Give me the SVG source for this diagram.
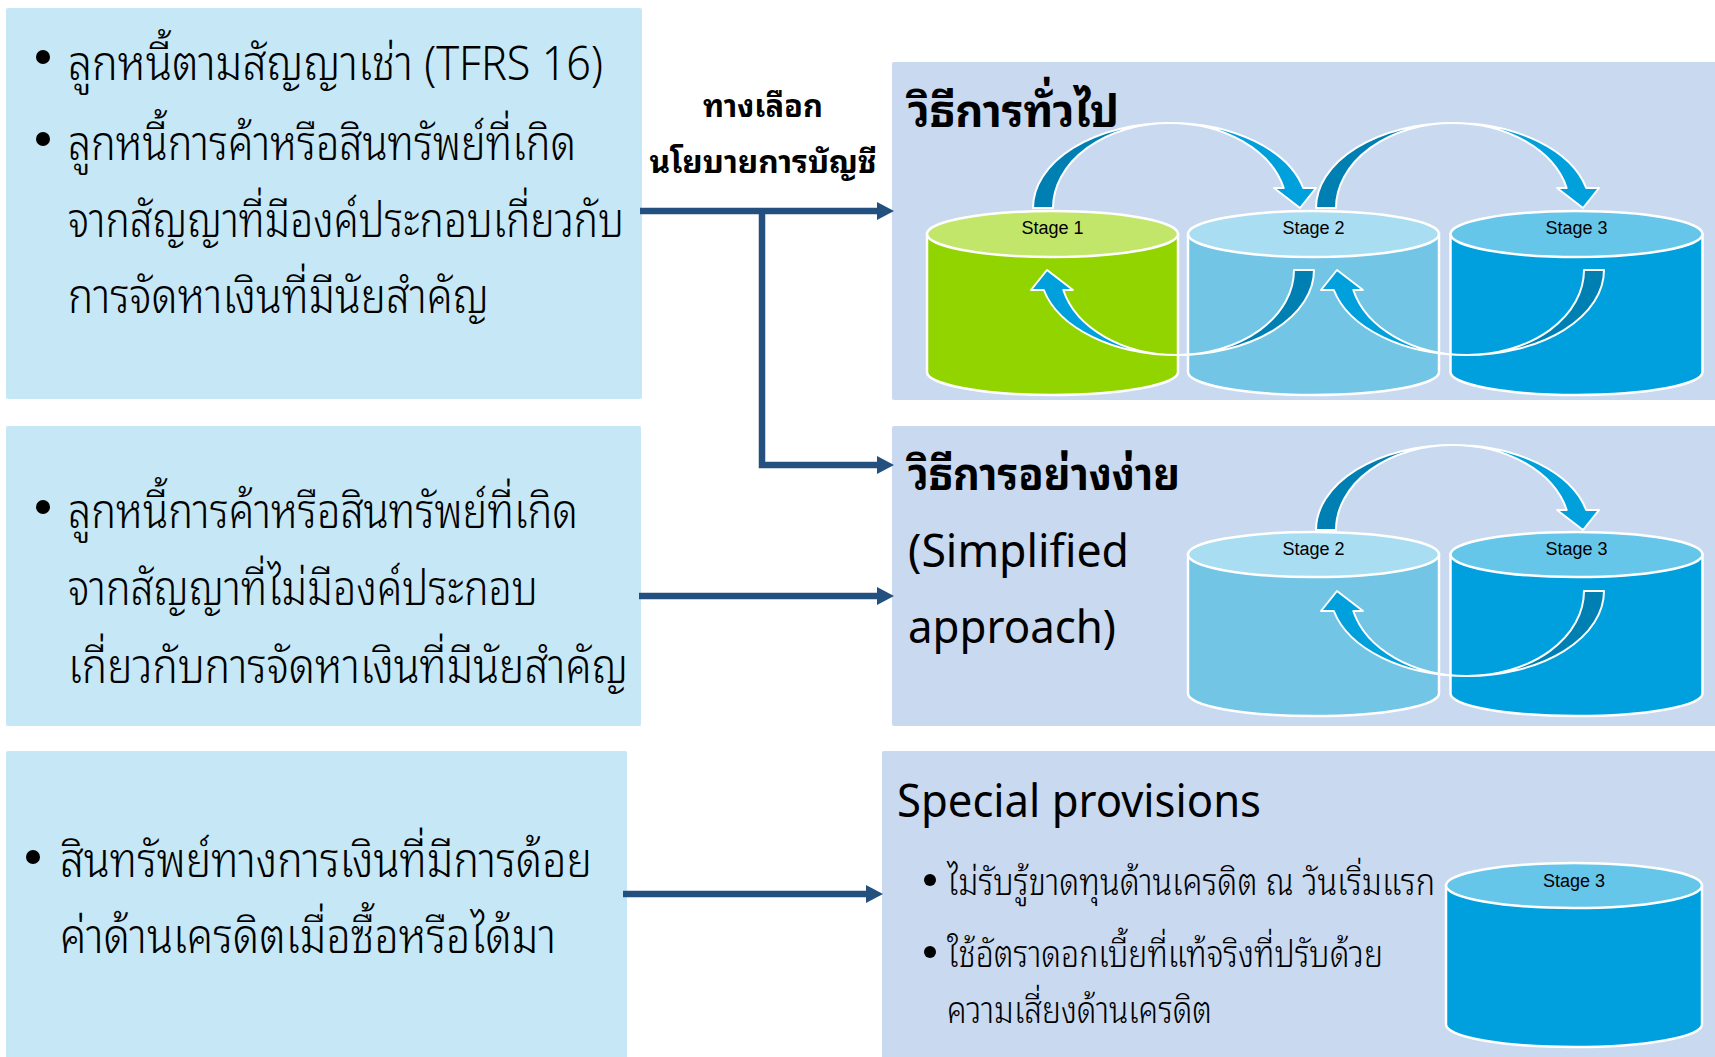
<svg xmlns="http://www.w3.org/2000/svg" width="1715" height="1057" viewBox="0 0 1715 1057">
<style>
  text { font-family: "Noto Sans Thai Looped", "Noto Sans Thai", "Noto Sans", "DejaVu Sans", sans-serif; fill: #000; }
  .src { fill: #C6E7F5; }
  .panel { fill: #C8D9F0; }
  .body { font-size: 48px; font-weight: 300; }
  .title { font-size: 46px; font-weight: bold; }
  .lat { font-size: 45px; }
  .note { font-size: 37px; font-weight: 300; }
  .opt { font-size: 31px; font-weight: bold; text-anchor: middle; }
  .stage { font-family: "Liberation Sans", Arial, sans-serif; font-size: 18px; text-anchor: middle; }
  .conn { fill: none; stroke: #24507F; stroke-width: 6.5; }
  .cyl path, .cyl ellipse { stroke: #fff; stroke-width: 2.5; }
  .g1 .side { fill: #92D400; } .g1 .cap { fill: #C2E66A; }
  .g2 .side { fill: #72C5E5; } .g2 .cap { fill: #A9DDF1; }
  .g3 .side { fill: #00A0DE; } .g3 .cap { fill: #66C6EA; }
  .bend path { stroke: #fff; stroke-width: 2; stroke-linejoin: round; }
  .dark { fill: #0080B2; }
  .light { fill: #00A0DC; }
  .dot { fill: #000; }
</style>
<defs>
  <marker id="ah" markerUnits="userSpaceOnUse" markerWidth="18" markerHeight="18" refX="0" refY="9" orient="auto" viewBox="0 0 18 18">
    <path d="M0 0 L17 9 L0 18 Z" fill="#24507F"/>
  </marker>
  <!-- two-tone bent arrow: base centred at (0,0), tip at (257,0), crest 85 above -->
  <g id="bend" class="bend">
    <path class="dark" d="M-10 0 A137 85 0 0 1 127 -85 A117 85 0 0 0 10 0 Z"/>
    <path class="light" d="M127 -85 A137 85 0 0 1 260.2 -20 L273 -20 L257 0 L231 -20 L240.7 -20 A117 85 0 0 0 127 -85 Z"/>
  </g>
</defs>

<!-- source boxes -->
<g id="src-lease">
  <rect class="src" x="6" y="8" width="636" height="391" rx="2"/>
  <circle class="dot" cx="43" cy="57" r="7"/>
  <circle class="dot" cx="43" cy="139" r="7"/>
  <text class="body" x="68" y="80" textLength="535" lengthAdjust="spacingAndGlyphs">ลูกหนี้ตามสัญญาเช่า (TFRS 16)</text>
  <text class="body" x="68" y="160" textLength="508" lengthAdjust="spacingAndGlyphs">ลูกหนี้การค้าหรือสินทรัพย์ที่เกิด</text>
  <text class="body" x="68" y="237" textLength="556" lengthAdjust="spacingAndGlyphs">จากสัญญาที่มีองค์ประกอบเกี่ยวกับ</text>
  <text class="body" x="68" y="313" textLength="421" lengthAdjust="spacingAndGlyphs">การจัดหาเงินที่มีนัยสำคัญ</text>
</g>

<g id="src-trade">
  <rect class="src" x="6" y="426" width="635" height="300" rx="2"/>
  <circle class="dot" cx="43" cy="507" r="7"/>
  <text class="body" x="68" y="528" textLength="510" lengthAdjust="spacingAndGlyphs">ลูกหนี้การค้าหรือสินทรัพย์ที่เกิด</text>
  <text class="body" x="68" y="605" textLength="470" lengthAdjust="spacingAndGlyphs">จากสัญญาที่ไม่มีองค์ประกอบ</text>
  <text class="body" x="68" y="683" textLength="560" lengthAdjust="spacingAndGlyphs">เกี่ยวกับการจัดหาเงินที่มีนัยสำคัญ</text>
</g>

<g id="src-impaired">
  <rect class="src" x="6" y="751" width="621" height="310" rx="2"/>
  <circle class="dot" cx="33" cy="857" r="7"/>
  <text class="body" x="60" y="877" textLength="532" lengthAdjust="spacingAndGlyphs">สินทรัพย์ทางการเงินที่มีการด้อย</text>
  <text class="body" x="60" y="953" textLength="496" lengthAdjust="spacingAndGlyphs">ค่าด้านเครดิตเมื่อซื้อหรือได้มา</text>
</g>

<!-- option label -->
<g id="policy-choice">
  <text class="opt" x="763" y="117" textLength="120" lengthAdjust="spacingAndGlyphs">ทางเลือก</text>
  <text class="opt" x="763" y="173" textLength="227" lengthAdjust="spacingAndGlyphs">นโยบายการบัญชี</text>
</g>

<!-- general approach -->
<g id="general">
  <rect class="panel" x="892" y="62" width="830" height="338" rx="2"/>
  <text class="title" x="908" y="127" textLength="211" lengthAdjust="spacingAndGlyphs">วิธีการทั่วไป</text>
  <g class="cyl g1">
    <path class="side" d="M927 234 V372 A125.5 23 0 0 0 1178 372 V234 Z"/>
    <ellipse class="cap" cx="1052.5" cy="234" rx="125.5" ry="23"/>
  </g>
  <g class="cyl g2">
    <path class="side" d="M1188 234 V372 A125.5 23 0 0 0 1439 372 V234 Z"/>
    <ellipse class="cap" cx="1313.5" cy="234" rx="125.5" ry="23"/>
  </g>
  <g class="cyl g3">
    <path class="side" d="M1450.5 234 V372 A126 23 0 0 0 1702.5 372 V234 Z"/>
    <ellipse class="cap" cx="1576.5" cy="234" rx="126" ry="23"/>
  </g>
  <text class="stage" x="1052.5" y="234">Stage 1</text>
  <text class="stage" x="1313.5" y="234">Stage 2</text>
  <text class="stage" x="1576.5" y="234">Stage 3</text>
  <use href="#bend" transform="translate(1043 208)"/>
  <use href="#bend" transform="translate(1326 208)"/>
  <use href="#bend" transform="translate(1304 270) rotate(180)"/>
  <use href="#bend" transform="translate(1594 270) rotate(180)"/>
</g>

<!-- simplified approach -->
<g id="simplified">
  <rect class="panel" x="892" y="426" width="830" height="300" rx="2"/>
  <text class="title" x="908" y="490" textLength="272" lengthAdjust="spacingAndGlyphs">วิธีการอย่างง่าย</text>
  <text class="lat" x="908" y="567" textLength="221" lengthAdjust="spacingAndGlyphs">(Simplified</text>
  <text class="lat" x="908" y="643" textLength="208" lengthAdjust="spacingAndGlyphs">approach)</text>
  <g class="cyl g2">
    <path class="side" d="M1188 554.5 V693.5 A125.5 22.5 0 0 0 1439 693.5 V554.5 Z"/>
    <ellipse class="cap" cx="1313.5" cy="554.5" rx="125.5" ry="22.5"/>
  </g>
  <g class="cyl g3">
    <path class="side" d="M1450.5 554.5 V693.5 A126 22.5 0 0 0 1702.5 693.5 V554.5 Z"/>
    <ellipse class="cap" cx="1576.5" cy="554.5" rx="126" ry="22.5"/>
  </g>
  <text class="stage" x="1313.5" y="555">Stage 2</text>
  <text class="stage" x="1576.5" y="555">Stage 3</text>
  <use href="#bend" transform="translate(1326 530)"/>
  <use href="#bend" transform="translate(1594 591) rotate(180)"/>
</g>

<!-- special provisions -->
<g id="special">
  <rect class="panel" x="882" y="751" width="840" height="310" rx="2"/>
  <text class="lat" x="897" y="817" textLength="364" lengthAdjust="spacingAndGlyphs">Special provisions</text>
  <circle class="dot" cx="930" cy="880" r="6"/>
  <circle class="dot" cx="930" cy="952" r="6"/>
  <text class="note" x="947" y="895" textLength="488" lengthAdjust="spacingAndGlyphs">ไม่รับรู้ขาดทุนด้านเครดิต ณ วันเริ่มแรก</text>
  <text class="note" x="947" y="967" textLength="436" lengthAdjust="spacingAndGlyphs">ใช้อัตราดอกเบี้ยที่แท้จริงที่ปรับด้วย</text>
  <text class="note" x="947" y="1023" textLength="265" lengthAdjust="spacingAndGlyphs">ความเสี่ยงด้านเครดิต</text>
  <g class="cyl g3">
    <path class="side" d="M1446 885.5 V1024.5 A128 22.5 0 0 0 1702 1024.5 V885.5 Z"/>
    <ellipse class="cap" cx="1574" cy="885.5" rx="128" ry="22.5"/>
  </g>
  <text class="stage" x="1574" y="887">Stage 3</text>
</g>

<!-- connectors -->
<g id="connectors">
  <path class="conn" d="M640 211 H877" marker-end="url(#ah)"/>
  <path class="conn" d="M762 211 V465 H877" marker-end="url(#ah)"/>
  <path class="conn" d="M639 596 H877" marker-end="url(#ah)"/>
  <path class="conn" d="M623 894 H866" marker-end="url(#ah)"/>
</g>
</svg>
